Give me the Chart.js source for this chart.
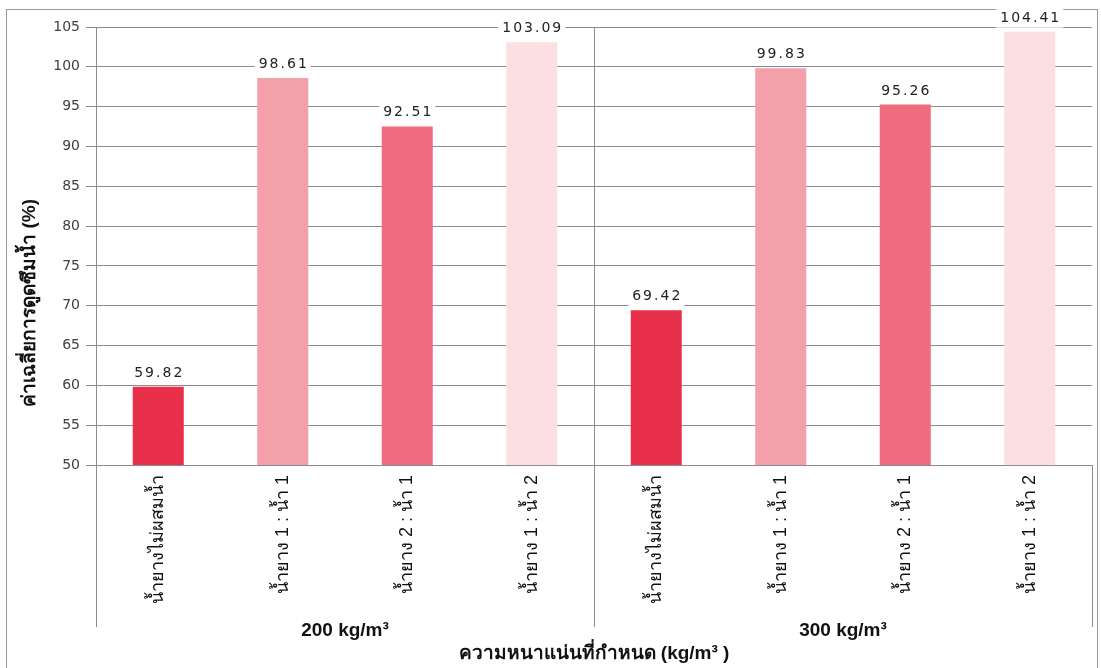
<!DOCTYPE html>
<html>
<head>
<meta charset="utf-8">
<script src="https://cdn.jsdelivr.net/npm/chart.js@4/dist/chart.umd.min.js"></script>
<style>
  body { margin: 0; background: #fff; }
  #frame { position: absolute; left: 6px; top: 9px; width: 1090px; height: 670px; border: 1px solid #9a9a9a; }
  #wrap { position: absolute; left: 0; top: 0; width: 1101px; height: 668px; }
</style>
</head>
<body>
<div id="frame"></div>
<div id="wrap"><canvas id="chart" width="1101" height="668"></canvas></div>
<script>
// ข้อมูลกราฟ
const densities = ["200 kg/m³", "300 kg/m³"];
const mixtures = ["น้ำยางไม่ผสมน้ำ", "น้ำยาง 1 : น้ำ 1", "น้ำยาง 2 : น้ำ 1", "น้ำยาง 1 : น้ำ 2"];
const values200 = [59.82, 98.61, 92.51, 103.09];
const values300 = [69.42, 99.83, 95.26, 104.41];
const barColors = ["#e8304a", "#f3a0ab", "#f06b7d", "#fbdfe3"];
const yTicks = [50, 55, 60, 65, 70, 75, 80, 85, 90, 95, 100, 105];
const yTitle = "ค่าเฉลี่ยการดูดซึมน้ำ (%)";
const xTitle = "ความหนาแน่นที่กำหนด (kg/m³ )";

const thaiFont = "sans-serif";
const gridColor = "#8c8c8c";

const labels = densities.flatMap(() => mixtures);
const values = values200.concat(values300);
const colors = densities.flatMap(() => barColors);

// ตัวเลขบนแท่ง (มีพื้นขาวทับเส้นกริด)
const valueLabels = {
  id: "valueLabels",
  afterDatasetsDraw(chart) {
    const ctx = chart.ctx;
    const meta = chart.getDatasetMeta(0);
    ctx.save();
    ctx.font = "14px 'DejaVu Sans'";
    ctx.letterSpacing = "2px";
    ctx.textAlign = "center";
    ctx.textBaseline = "alphabetic";
    meta.data.forEach((bar, i) => {
      const txt = values[i].toFixed(2);
      const w = ctx.measureText(txt).width;
      const base = bar.y - 10;
      ctx.fillStyle = "#fff";
      ctx.fillRect(bar.x - w / 2 - 3, base - 14, w + 6, 20);
      ctx.fillStyle = "#222";
      ctx.fillText(txt, bar.x + 1, base);
    });
    ctx.restore();
  }
};

// เส้นแบ่งกลุ่ม + ชื่อแกน y
const groupLines = {
  id: "groupLines",
  afterDraw(chart) {
    const ctx = chart.ctx;
    const x = chart.scales.x;
    const area = chart.chartArea;
    const n = mixtures.length;
    ctx.save();
    ctx.strokeStyle = gridColor;
    ctx.lineWidth = 1;
    for (let g = 0; g <= densities.length; g++) {
      const px = Math.round(x.getPixelForValue(g * n - 0.5)) + 0.5;
      const top = g === densities.length ? area.bottom : area.top;
      ctx.beginPath();
      ctx.moveTo(px, top);
      ctx.lineTo(px, x.bottom + 12);
      ctx.stroke();
    }
    ctx.translate(30, area.top + (area.bottom - area.top) * 0.63);
    ctx.rotate(-Math.PI / 2);
    ctx.font = "bold 19px " + thaiFont;
    ctx.fillStyle = "#111";
    ctx.textAlign = "center";
    ctx.textBaseline = "middle";
    ctx.fillText(yTitle, 0, 0);
    ctx.restore();
  }
};

new Chart(document.getElementById("chart"), {
  type: "bar",
  data: {
    labels,
    datasets: [{
      data: values,
      backgroundColor: colors,
      borderWidth: 0,
      barPercentage: 0.41,
      categoryPercentage: 1
    }]
  },
  options: {
    responsive: false,
    animation: false,
    layout: { padding: { top: 27, right: 9, left: 0, bottom: 0 } },
    plugins: { legend: { display: false }, tooltip: { enabled: false } },
    scales: {
      y: {
        min: 50,
        max: 105,
        afterFit: (s) => { s.width = 96; },
        afterBuildTicks: (s) => { s.ticks = yTicks.map((v) => ({ value: v })); },
        ticks: { font: { family: "'DejaVu Sans'", size: 14 }, color: "#404040", padding: 6 },
        grid: { color: gridColor, tickLength: 10 },
        border: { display: false }
      },
      x: {
        afterFit: (s) => { s.height = 150; },
        ticks: {
          autoSkip: false, minRotation: 90, maxRotation: 90, padding: 10,
          font: { family: thaiFont, size: 18 }, color: "#111"
        },
        grid: { display: false, drawTicks: false },
        border: { display: false }
      },
      x2: {
        type: "category",
        labels: densities,
        position: "bottom",
        offset: true,
        afterFit: (s) => { s.height = 53; },
        ticks: { font: { family: thaiFont, size: 19, weight: "bold" }, color: "#111", padding: 4 },
        grid: { display: false, drawTicks: false },
        border: { display: false },
        title: {
          display: true, text: xTitle,
          font: { family: thaiFont, size: 19, weight: "bold" }, color: "#111",
          padding: { top: 0, bottom: 3 }
        }
      }
    }
  },
  plugins: [valueLabels, groupLines]
});
</script>
</body>
</html>
